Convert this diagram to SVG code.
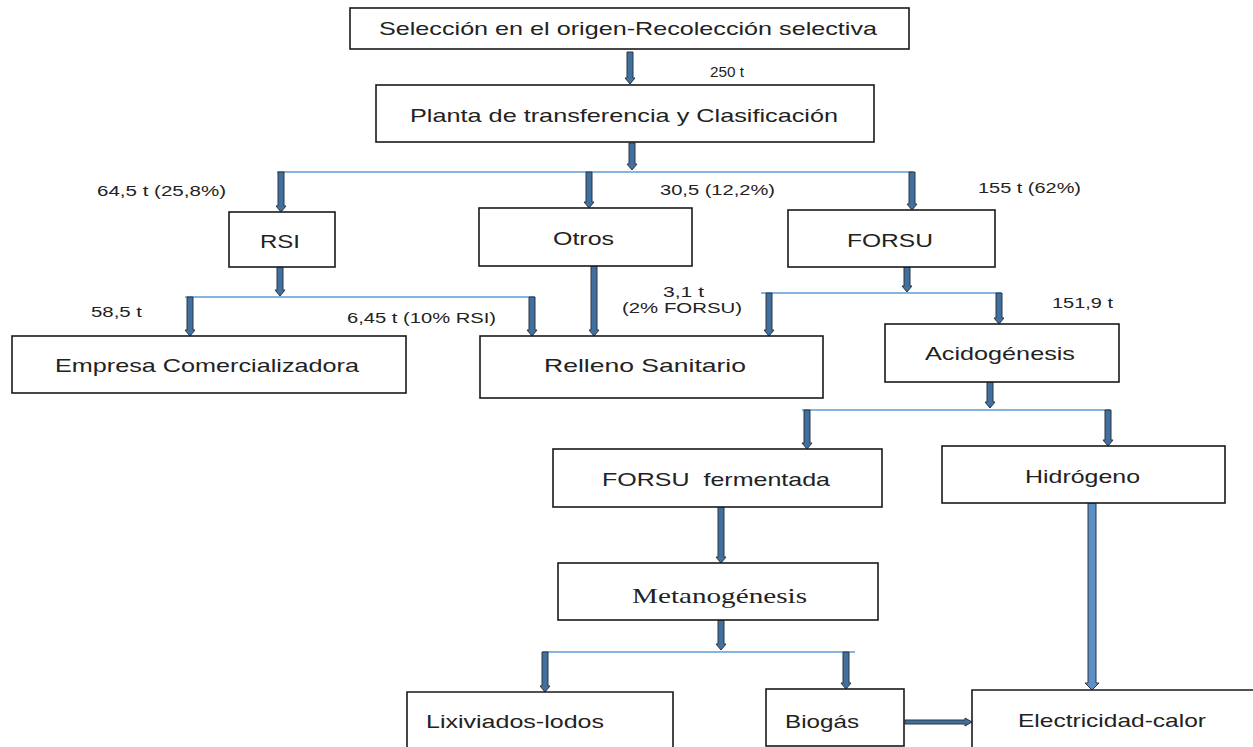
<svg xmlns="http://www.w3.org/2000/svg" width="1253" height="747" viewBox="0 0 1253 747">
<style>
.box{fill:#fff;stroke:#1a1a1a;stroke-width:1.6}
.t{font-family:"Liberation Sans",Arial,sans-serif;font-size:19px;fill:#222}
.s{font-family:"Liberation Serif","Times New Roman",serif;font-size:21px;fill:#222}
.l{font-family:"Liberation Sans",Arial,sans-serif;font-size:15px;fill:#222}
.h{stroke:#5b9bd5;stroke-width:1.6;fill:none}
.a{fill:#41709f;stroke:#2b3440;stroke-width:1}
.a2{fill:#5b8fc6;stroke:#2b3440;stroke-width:1}
</style>
<rect width="1253" height="747" fill="#fff"/>
<g id="connectors">
<path class="a" d="M627,52 L633,52 L633,78 L635,78 L630,84 L625,78 L627,78 Z"/>
<path class="a" d="M629,143 L635,143 L635,164 L637,164 L632,170 L627,164 L629,164 Z"/>
<line class="h" x1="277" y1="172" x2="913" y2="172"/>
<path class="a" d="M278,172 L284,172 L284,206 L286,206 L281,212 L276,206 L278,206 Z"/>
<path class="a" d="M586,172 L592,172 L592,202 L594,202 L589,208 L584,202 L586,202 Z"/>
<path class="a" d="M909,172 L915,172 L915,204 L917,204 L912,210 L907,204 L909,204 Z"/>
<path class="a" d="M277,267 L283,267 L283,290 L285,290 L280,296 L275,290 L277,290 Z"/>
<line class="h" x1="185" y1="297" x2="535" y2="297"/>
<path class="a" d="M187,297 L193,297 L193,330 L195,330 L190,336 L185,330 L187,330 Z"/>
<path class="a" d="M529,297 L535,297 L535,330 L537,330 L532,336 L527,330 L529,330 Z"/>
<path class="a" d="M591,266 L597,266 L597,330 L599,330 L594,336 L589,330 L591,330 Z"/>
<path class="a" d="M904,267 L910,267 L910,286 L912,286 L907,292 L902,286 L904,286 Z"/>
<line class="h" x1="761" y1="293" x2="1001" y2="293"/>
<path class="a" d="M766,293 L772,293 L772,330 L774,330 L769,336 L764,330 L766,330 Z"/>
<path class="a" d="M996,293 L1002,293 L1002,318 L1004,318 L999,324 L994,318 L996,318 Z"/>
<path class="a" d="M987,382 L993,382 L993,402 L995,402 L990,408 L985,402 L987,402 Z"/>
<line class="h" x1="802" y1="410" x2="1110" y2="410"/>
<path class="a" d="M804,410 L810,410 L810,443 L812,443 L807,449 L802,443 L804,443 Z"/>
<path class="a" d="M1105,410 L1111,410 L1111,440 L1113,440 L1108,446 L1103,440 L1105,440 Z"/>
<path class="a" d="M718,507 L724,507 L724,557 L726,557 L721,563 L716,557 L718,557 Z"/>
<path class="a2" d="M1088,503 L1096,503 L1096,683 L1099,683 L1092,690 L1085,683 L1088,683 Z"/>
<path class="a" d="M718,620 L724,620 L724,644 L726,644 L721,650 L716,644 L718,644 Z"/>
<line class="h" x1="543" y1="652" x2="855" y2="652"/>
<path class="a" d="M542,652 L548,652 L548,686 L550,686 L545,692 L540,686 L542,686 Z"/>
<path class="a" d="M843,652 L849,652 L849,683 L851,683 L846,689 L841,683 L843,683 Z"/>
<path class="a" d="M905,720 L965,720 L965,718 L972,722 L965,726 L965,724 L905,724 Z"/>
</g>
<g id="n-seleccion"><rect class="box" x="350" y="8" width="559" height="41"/><text class="t" x="379" y="35" textLength="498" lengthAdjust="spacingAndGlyphs">Selección en el origen-Recolección selectiva</text></g>
<g id="l-250"><text class="l" x="710" y="77" textLength="34" lengthAdjust="spacingAndGlyphs">250 t</text></g>
<g id="n-planta"><rect class="box" x="376" y="85" width="498" height="57"/><text class="t" x="410" y="122" textLength="428" lengthAdjust="spacingAndGlyphs">Planta de transferencia y Clasificación</text></g>
<g id="l-rsi"><text class="l" x="97" y="196" textLength="129" lengthAdjust="spacingAndGlyphs">64,5 t (25,8%)</text></g>
<g id="l-otros"><text class="l" x="660" y="195" textLength="115" lengthAdjust="spacingAndGlyphs">30,5 (12,2%)</text></g>
<g id="l-forsu"><text class="l" x="978" y="193" textLength="103" lengthAdjust="spacingAndGlyphs">155 t (62%)</text></g>
<g id="n-rsi"><rect class="box" x="229" y="212" width="106" height="55"/><text class="t" x="260" y="248" textLength="40" lengthAdjust="spacingAndGlyphs">RSI</text></g>
<g id="n-otros"><rect class="box" x="479" y="208" width="213" height="58"/><text class="t" x="553" y="245" textLength="61" lengthAdjust="spacingAndGlyphs">Otros</text></g>
<g id="n-forsu"><rect class="box" x="788" y="210" width="207" height="57"/><text class="t" x="847" y="247" textLength="86" lengthAdjust="spacingAndGlyphs">FORSU</text></g>
<g id="l-585"><text class="l" x="91" y="317" textLength="51" lengthAdjust="spacingAndGlyphs">58,5 t</text></g>
<g id="l-645"><text class="l" x="347" y="323" textLength="149" lengthAdjust="spacingAndGlyphs">6,45 t (10% RSI)</text></g>
<g id="l-31"><text class="l" x="663" y="297" textLength="41" lengthAdjust="spacingAndGlyphs">3,1 t</text><text class="l" x="622" y="313" textLength="120" lengthAdjust="spacingAndGlyphs">(2% FORSU)</text></g>
<g id="l-1519"><text class="l" x="1052" y="308" textLength="61" lengthAdjust="spacingAndGlyphs">151,9 t</text></g>
<g id="n-empresa"><rect class="box" x="12" y="336" width="394" height="57"/><text class="t" x="55" y="372" textLength="304" lengthAdjust="spacingAndGlyphs">Empresa Comercializadora</text></g>
<g id="n-relleno"><rect class="box" x="480" y="336" width="343" height="62"/><text class="t" x="544" y="372" textLength="202" lengthAdjust="spacingAndGlyphs">Relleno Sanitario</text></g>
<g id="n-acido"><rect class="box" x="885" y="324" width="234" height="58"/><text class="t" x="925" y="360" textLength="150" lengthAdjust="spacingAndGlyphs">Acidogénesis</text></g>
<g id="n-fermentada"><rect class="box" x="553" y="449" width="329" height="58"/><text class="t" x="602" y="486" textLength="228" lengthAdjust="spacingAndGlyphs" xml:space="preserve">FORSU  fermentada</text></g>
<g id="n-hidrogeno"><rect class="box" x="942" y="446" width="283" height="57"/><text class="t" x="1025" y="483" textLength="115" lengthAdjust="spacingAndGlyphs">Hidrógeno</text></g>
<g id="n-metano"><rect class="box" x="558" y="563" width="320" height="57"/><text class="s" x="632" y="603" textLength="175" lengthAdjust="spacingAndGlyphs">Metanogénesis</text></g>
<g id="n-lixiviados"><path class="box" d="M407,750 L407,692 L673,692 L673,750"/><text class="t" x="426" y="728" textLength="178" lengthAdjust="spacingAndGlyphs">Lixiviados-lodos</text></g>
<g id="n-biogas"><rect class="box" x="766" y="689" width="138" height="57"/><text class="t" x="785" y="728" textLength="74" lengthAdjust="spacingAndGlyphs">Biogás</text></g>
<g id="n-electricidad"><path class="box" d="M972,750 L972,690 L1260,690"/><text class="t" x="1018" y="727" textLength="188" lengthAdjust="spacingAndGlyphs">Electricidad-calor</text></g>
</svg>
